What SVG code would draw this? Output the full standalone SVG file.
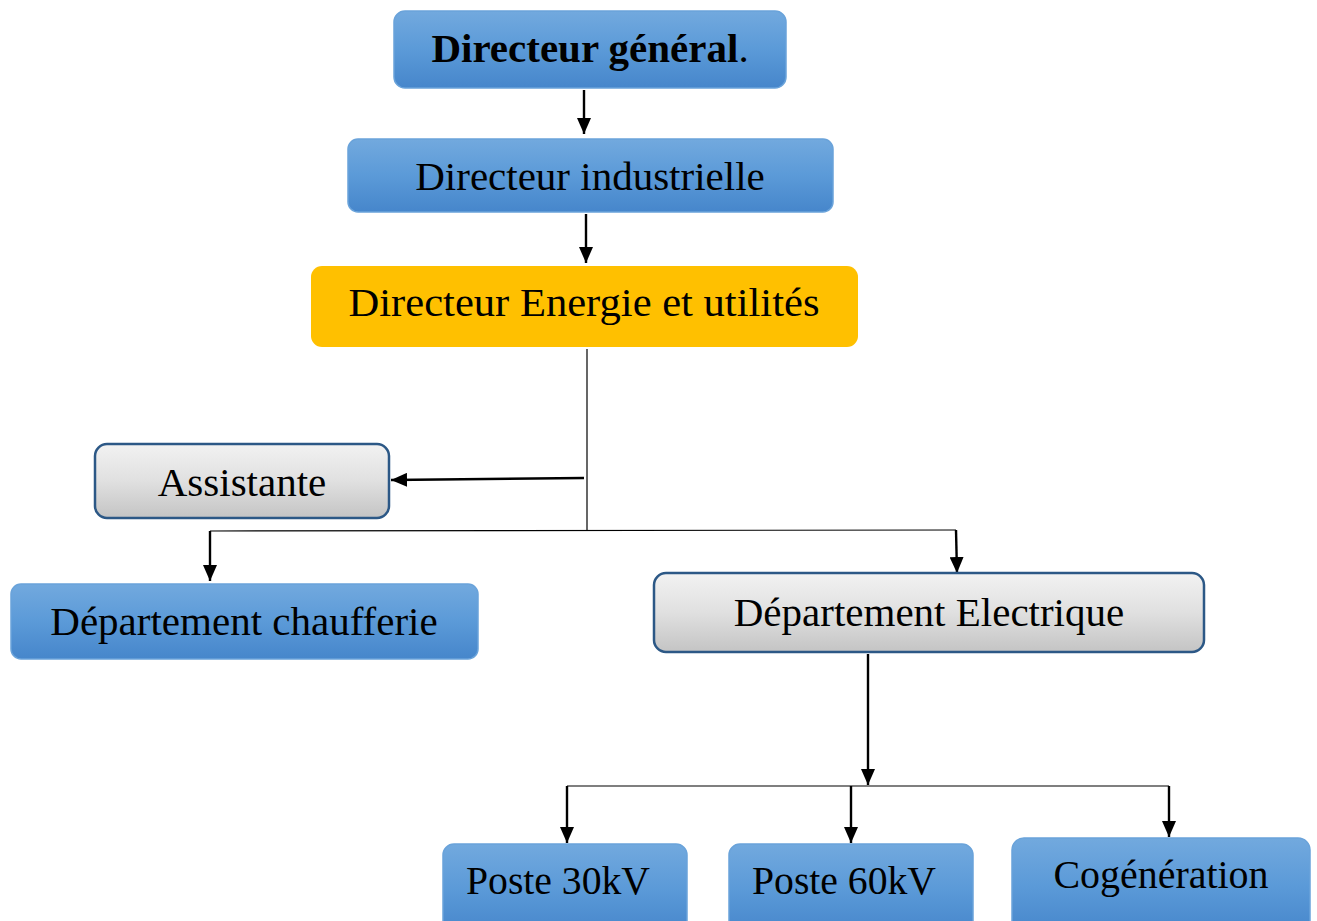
<svg xmlns="http://www.w3.org/2000/svg" width="1317" height="921" viewBox="0 0 1317 921">
  <defs>
    <linearGradient id="blueFill" x1="0" y1="0" x2="0" y2="1">
      <stop offset="0" stop-color="#72a9de"/>
      <stop offset="0.5" stop-color="#5b9ad8"/>
      <stop offset="1" stop-color="#4686cb"/>
    </linearGradient>
    <linearGradient id="greyFill" x1="0" y1="0" x2="0" y2="1">
      <stop offset="0" stop-color="#f2f2f2"/>
      <stop offset="0.5" stop-color="#e0e0e0"/>
      <stop offset="1" stop-color="#c4c4c4"/>
    </linearGradient>
    <marker id="arrow" viewBox="0 0 16 14" refX="16" refY="7" markerWidth="16" markerHeight="14" markerUnits="userSpaceOnUse" orient="auto">
      <path d="M0,0 L16,7 L0,14 z" fill="#000"/>
    </marker>
  </defs>
  <style>
    .blue { fill: url(#blueFill); stroke: #6aa3da; stroke-width: 1.5; }
    .grey { fill: url(#greyFill); stroke: #2c5886; stroke-width: 2.5; }
    .gold { fill: #ffc000; stroke: none; }
    .lbl { font-family: "Liberation Serif", "Times New Roman", serif; font-size: 41px; fill: #000; text-anchor: middle; }
    .bold { font-weight: bold; }
    .wire { fill: none; stroke: #000; stroke-width: 2.4; }
    .thin { fill: none; stroke: #000; stroke-width: 1.2; }
  </style>
  <rect width="1317" height="921" fill="#fff"/>

  <g id="connectors">
    <line class="wire" x1="584" y1="90" x2="584" y2="134" marker-end="url(#arrow)"/>
    <line class="wire" x1="586" y1="214" x2="586" y2="263" marker-end="url(#arrow)"/>
    <line class="thin" x1="587" y1="349" x2="587" y2="530"/>
    <line class="wire" x1="584" y1="478" x2="391" y2="480" marker-end="url(#arrow)"/>
    <polyline class="thin" points="210,531 956,530"/>
    <line class="wire" x1="210" y1="531" x2="210" y2="581" marker-end="url(#arrow)"/>
    <line class="wire" x1="956" y1="530" x2="957" y2="573" marker-end="url(#arrow)"/>
    <line class="wire" x1="868" y1="654" x2="868" y2="785" marker-end="url(#arrow)"/>
    <line class="thin" x1="567" y1="786" x2="1169" y2="786"/>
    <line class="wire" x1="567" y1="786" x2="567" y2="843" marker-end="url(#arrow)"/>
    <line class="wire" x1="851" y1="786" x2="851" y2="843" marker-end="url(#arrow)"/>
    <line class="wire" x1="1169" y1="786" x2="1169" y2="837" marker-end="url(#arrow)"/>
  </g>

  <g id="directeur-general">
    <rect class="blue" x="394" y="11" width="392" height="77" rx="11"/>
    <text class="lbl bold" x="590" y="62">Directeur général<tspan font-weight="normal">.</tspan></text>
  </g>

  <g id="directeur-industrielle">
    <rect class="blue" x="348" y="139" width="485" height="73" rx="10"/>
    <text class="lbl" x="590" y="190">Directeur industrielle</text>
  </g>

  <g id="directeur-energie">
    <rect class="gold" x="311" y="266" width="547" height="81" rx="11"/>
    <text class="lbl" x="584" y="316" font-size="43" textLength="471" lengthAdjust="spacingAndGlyphs">Directeur Energie et utilités</text>
  </g>

  <g id="assistante">
    <rect class="grey" x="95" y="444" width="294" height="74" rx="12"/>
    <text class="lbl" x="242" y="496" font-size="42">Assistante</text>
  </g>

  <g id="departement-chaufferie">
    <rect class="blue" x="11" y="584" width="467" height="75" rx="10"/>
    <text class="lbl" x="244" y="635">Département chaufferie</text>
  </g>

  <g id="departement-electrique">
    <rect class="grey" x="654" y="573" width="550" height="79" rx="12"/>
    <text class="lbl" x="929" y="626">Département Electrique</text>
  </g>

  <g id="poste-30kv">
    <rect class="blue" x="443" y="844" width="244" height="90" rx="11"/>
    <text class="lbl" x="558" y="894" font-size="45" textLength="184" lengthAdjust="spacingAndGlyphs">Poste 30kV</text>
  </g>

  <g id="poste-60kv">
    <rect class="blue" x="729" y="844" width="244" height="90" rx="11"/>
    <text class="lbl" x="844" y="894" font-size="45" textLength="184" lengthAdjust="spacingAndGlyphs">Poste 60kV</text>
  </g>

  <g id="cogeneration">
    <rect class="blue" x="1012" y="838" width="298" height="96" rx="12"/>
    <text class="lbl" x="1161" y="888" font-size="44" textLength="215" lengthAdjust="spacingAndGlyphs">Cogénération</text>
  </g>
</svg>
